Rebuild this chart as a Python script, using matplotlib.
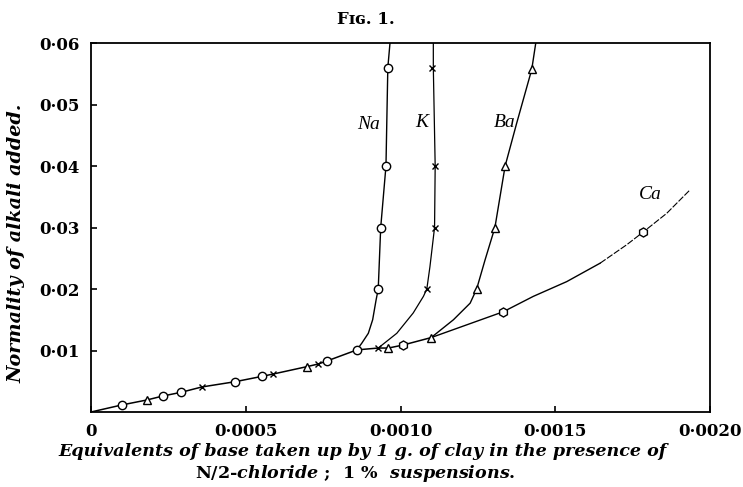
import matplotlib
matplotlib.use("Agg")
import matplotlib.pyplot as plt

# common part of the curves (equivalents taken up vs normality)
base_x = [0, 9.9e-5, 1.80e-4, 2.32e-4, 2.91e-4, 3.58e-4, 4.66e-4, 5.53e-4, 5.89e-4,
          6.97e-4, 7.34e-4, 7.62e-4, 8.59e-4, 9.28e-4, 9.61e-4, 1.009e-3, 1.099e-3]
base_y = [0, 0.00114, 0.00195, 0.0026, 0.0032, 0.00407, 0.00493, 0.0058, 0.00618,
          0.00737, 0.0078, 0.00829, 0.0101, 0.0104, 0.0104, 0.0109, 0.0121]

# Na
na_x = [8.59e-4, 8.75e-4, 8.96e-4, 9.10e-4, 9.21e-4, 9.28e-4, 9.36e-4, 9.53e-4, 9.59e-4, 9.66e-4]
na_y = [0.0101, 0.0112, 0.0128, 0.0150, 0.0182, 0.020, 0.030, 0.040, 0.056, 0.060]
na_pts_x = [9.9e-5, 2.32e-4, 2.91e-4, 4.66e-4, 5.53e-4, 7.62e-4, 8.59e-4, 9.28e-4, 9.36e-4, 9.53e-4, 9.59e-4]
na_pts_y = [0.00114, 0.0026, 0.0032, 0.00493, 0.0058, 0.00829, 0.0101, 0.020, 0.030, 0.040, 0.056]

# K
k_x = [9.28e-4, 9.88e-4, 1.041e-3, 1.074e-3, 1.085e-3, 1.095e-3, 1.110e-3, 1.112e-3, 1.106e-3, 1.106e-3]
k_y = [0.0104, 0.0128, 0.0161, 0.0188, 0.020, 0.0236, 0.030, 0.040, 0.056, 0.060]
k_pts_x = [3.58e-4, 5.89e-4, 7.34e-4, 9.28e-4, 1.085e-3, 1.110e-3, 1.112e-3, 1.103e-3]
k_pts_y = [0.00407, 0.00618, 0.0078, 0.0104, 0.020, 0.030, 0.040, 0.056]

# Ba
ba_x = [1.099e-3, 1.171e-3, 1.225e-3, 1.246e-3, 1.273e-3, 1.305e-3, 1.338e-3, 1.375e-3, 1.424e-3, 1.437e-3]
ba_y = [0.0121, 0.0150, 0.0177, 0.020, 0.0247, 0.030, 0.040, 0.0469, 0.0557, 0.060]
ba_pts_x = [1.80e-4, 6.97e-4, 9.61e-4, 1.099e-3, 1.246e-3, 1.305e-3, 1.338e-3, 1.424e-3]
ba_pts_y = [0.00195, 0.00737, 0.0104, 0.0121, 0.020, 0.030, 0.040, 0.0557]

# Ca
ca_x = [1.099e-3, 1.332e-3, 1.429e-3, 1.537e-3, 1.645e-3, 1.731e-3, 1.785e-3, 1.860e-3, 1.935e-3]
ca_y = [0.0121, 0.0163, 0.0188, 0.0212, 0.0242, 0.0272, 0.0293, 0.0323, 0.0361]
ca_pts_x = [1.009e-3, 1.332e-3, 1.785e-3]
ca_pts_y = [0.0109, 0.0163, 0.0293]

# labels
curve_names = ["Na", "K", "Ba", "Ca"]
name_x = [8.95e-4, 1.0695e-3, 1.338e-3, 1.806e-3]
name_y = [0.0467, 0.047, 0.047, 0.0353]

xticks = [0, 0.0005, 0.0010, 0.0015, 0.0020]
xtick_labels = ["0", "0·0005", "0·0010", "0·0015", "0·0020"]
yticks = [0.01, 0.02, 0.03, 0.04, 0.05, 0.06]
ytick_labels = ["0·01", "0·02", "0·03", "0·04", "0·05", "0·06"]

plt.rcParams['mathtext.fontset'] = 'custom'
plt.rcParams['mathtext.rm'] = 'DejaVu Serif:bold'
plt.rcParams['mathtext.it'] = 'DejaVu Serif:italic:bold'

fig = plt.figure(figsize=(7.43, 4.87), dpi=100)
ax = fig.add_axes([0.1225, 0.154, 0.8331, 0.7577])

lc = 'black'
ax.plot(base_x, base_y, color=lc, lw=1.1)
ax.plot(na_x, na_y, color=lc, lw=1.0)
ax.plot(k_x, k_y, color=lc, lw=0.9)
ax.plot(ba_x, ba_y, color=lc, lw=1.0)
ax.plot(ca_x[:5], ca_y[:5], color=lc, lw=1.0)
ax.plot(ca_x[4:], ca_y[4:], color=lc, lw=0.8, ls=(0, (6, 1.5)))

ax.plot(na_pts_x, na_pts_y, 'o', ms=6, mfc='white', mec=lc, mew=1.0)
ax.plot(k_pts_x, k_pts_y, 'x', ms=4.5, mec=lc, mew=1.0)
ax.plot(ba_pts_x, ba_pts_y, '^', ms=6, mfc='white', mec=lc, mew=1.0)
ax.plot(ca_pts_x, ca_pts_y, 'h', ms=6.5, mfc='white', mec=lc, mew=1.0)

for name, nx, ny in zip(curve_names, name_x, name_y):
    ax.text(nx, ny, name, fontsize=14, fontstyle='italic', family='Liberation Serif',
            ha='center', va='center')

ax.set_xlim(0, 0.002)
ax.set_ylim(0, 0.06)
ax.set_xticks(xticks)
ax.set_xticklabels(xtick_labels, family='DejaVu Serif', fontweight='bold', fontsize=12)
ax.set_yticks(yticks)
ax.set_yticklabels(ytick_labels, family='DejaVu Serif', fontweight='bold', fontsize=12)
ax.tick_params(direction='in', length=4, width=1.2, pad=8)
for s in ax.spines.values():
    s.set_linewidth(1.3)

fig.text(366 / 743, 1 - 20 / 487, "Fɪɢ. 1.", family='DejaVu Serif', fontsize=12,
         fontweight='bold', ha='center', va='center')

fig.text(17 / 743, 1 - 243 / 487, "Normality of alkali added.", family='DejaVu Serif',
         fontstyle='italic', fontweight='bold', fontsize=13.8, rotation=90,
         ha='center', va='center')

fig.text(363 / 743, 1 - 451 / 487,
         "Equivalents of base taken up by 1 g. of clay in the presence of",
         family='DejaVu Serif', fontstyle='italic', fontweight='bold', fontsize=12.6,
         ha='center', va='center')
fig.text(355 / 743, 1 - 473 / 487,
         r"N/2-$\mathit{chloride}$ ;  1 %  $\mathit{suspensions.}$",
         family='DejaVu Serif', fontweight='bold', fontsize=12.6,
         ha='center', va='center')

fig.savefig("out.png", dpi=100)
